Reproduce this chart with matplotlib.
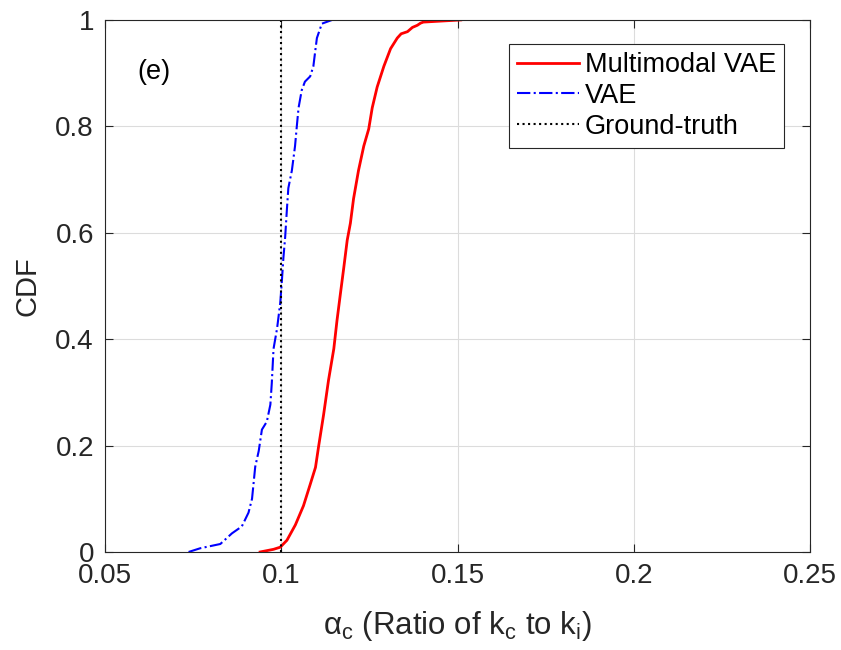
import matplotlib.pyplot as plt
from matplotlib.ticker import FuncFormatter

plt.rcParams['font.family'] = ['Liberation Sans', 'DejaVu Sans']
plt.rcParams['mathtext.fontset'] = 'custom'
plt.rcParams['mathtext.rm'] = 'Liberation Sans'
plt.rcParams['mathtext.it'] = 'Liberation Sans'

# Données (CDF empiriques)
vae_x = [0.0737, 0.0770, 0.0827, 0.0860, 0.0888, 0.0907, 0.0917, 0.0926,
         0.0936, 0.0945, 0.0959, 0.0969, 0.0973, 0.0978, 0.0988, 0.0997,
         0.1002, 0.1006, 0.1011, 0.1016, 0.1020, 0.1030, 0.1039, 0.1044,
         0.1049, 0.1058, 0.1067, 0.1082, 0.1091, 0.1096, 0.1101, 0.1115,
         0.1144]
vae_cdf = [0.0, 0.007, 0.015, 0.035, 0.048, 0.074, 0.10, 0.16,
           0.19, 0.23, 0.245, 0.277, 0.317, 0.382, 0.42, 0.468,
           0.513, 0.553, 0.592, 0.645, 0.684, 0.717, 0.763, 0.80,
           0.835, 0.868, 0.884, 0.894, 0.913, 0.94, 0.966, 0.993,
           1.0]

mvae_x = [0.0940, 0.0978, 0.0997, 0.1016, 0.1040, 0.1063, 0.1082, 0.1097,
          0.1106, 0.1120, 0.1134, 0.1149, 0.1158, 0.1168, 0.1177, 0.1187,
          0.1196, 0.1205, 0.1219, 0.1234, 0.1248, 0.1258, 0.1272, 0.1291,
          0.1310, 0.1329, 0.1340, 0.1358, 0.1372, 0.1386, 0.1395, 0.1403,
          0.1509]
mvae_cdf = [0.0, 0.005, 0.009, 0.022, 0.051, 0.087, 0.127, 0.159,
            0.199, 0.258, 0.323, 0.382, 0.435, 0.487, 0.533, 0.586,
            0.618, 0.664, 0.717, 0.763, 0.795, 0.835, 0.874, 0.913,
            0.946, 0.966, 0.974, 0.978, 0.986, 0.990, 0.994, 0.996,
            1.0]

truth = 0.1

x_ticks = [0.05, 0.1, 0.15, 0.2, 0.25]
y_ticks = [0, 0.2, 0.4, 0.6, 0.8, 1]

fig = plt.figure(figsize=(8.41, 6.5), dpi=100)
ax = fig.add_axes([0.1249, 0.1508, 0.8383, 0.8185])

ax.plot(mvae_x, mvae_cdf, color='red', linewidth=2, label='Multimodal VAE')
ax.plot(vae_x, vae_cdf, color='blue', linestyle='-.', linewidth=1.5, label='VAE')
ax.plot([truth, truth], [0, 1], color='black', linestyle=':', linewidth=1.5,
        label='Ground-truth')

ax.set_xlim(0.05, 0.25)
ax.set_ylim(0, 1)
ax.set_xticks(x_ticks)
ax.set_yticks(y_ticks)
ax.xaxis.set_major_formatter(FuncFormatter(lambda v, p: f'{v:g}'))
ax.yaxis.set_major_formatter(FuncFormatter(lambda v, p: f'{v:g}'))

ax.tick_params(direction='in', length=6, width=0.8, top=True, right=True,
               labelsize=20, colors='#262626', pad=8)
for s in ax.spines.values():
    s.set_color('#262626')
    s.set_linewidth(0.8)

ax.grid(True, color='#dcdcdc', linewidth=0.8)
ax.set_axisbelow(True)

ax.set_xlabel(r'$\mathregular{\alpha_c}$ (Ratio of k$\mathregular{_c}$ to k$\mathregular{_i}$)',
              fontsize=22.5, color='#262626', labelpad=14)
ax.set_ylabel('CDF', fontsize=21, color='#262626', labelpad=10)

ax.text(0.0638, 0.902, '(e)', fontsize=19.5, ha='center', va='center')

leg = ax.legend(loc='upper right', bbox_to_anchor=(0.963, 0.955), borderaxespad=0,
                fontsize=19.5, fancybox=False, framealpha=1, edgecolor='#262626',
                handlelength=2.3, handletextpad=0.2, labelspacing=0.18,
                borderpad=0.3)
leg.get_frame().set_linewidth(0.8)

plt.savefig('out.png', dpi=100)
